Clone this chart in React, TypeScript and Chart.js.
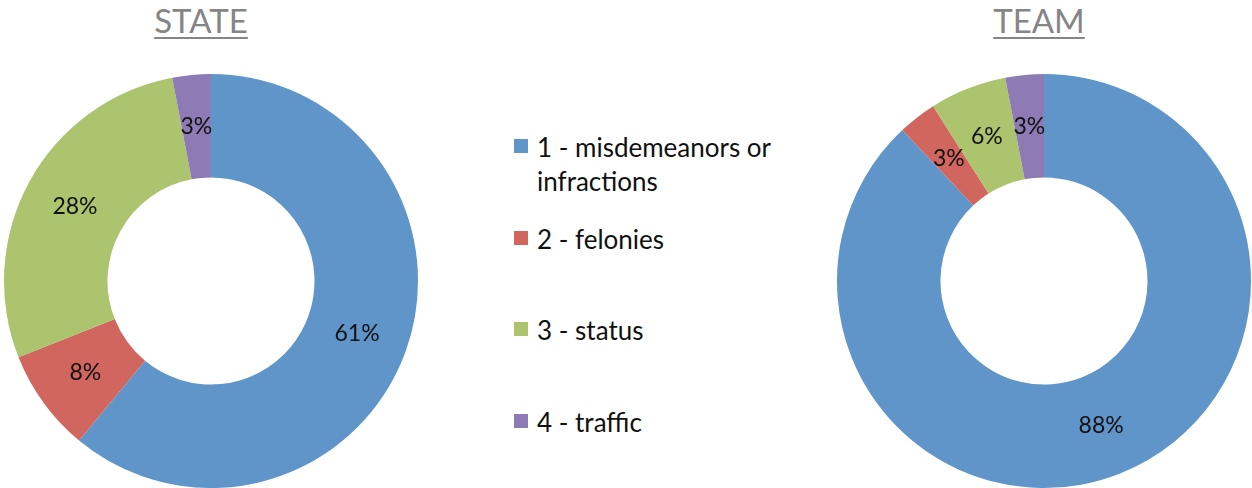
import React, { useEffect, useRef } from "react";
import { Chart, registerables } from "chart.js";

Chart.register(...registerables);

const categories = ["1 - misdemeanors or infractions", "2 - felonies", "3 - status", "4 - traffic"];
const stateValues = [61, 8, 28, 3];
const teamValues = [88, 3, 6, 3];
const colors = ["#5F95C9", "#D0665E", "#ABC46D", "#8E7BB5"];
const titles = ["STATE", "TEAM"];

const labelPlugin = {
  id: "sliceLabels",
  afterDatasetsDraw(chart: any) {
    const ctx = chart.ctx;
    const meta = chart.getDatasetMeta(0);
    const data = chart.data.datasets[0].data as number[];
    ctx.save();
    ctx.font = "23px Lato";
    ctx.fillStyle = "#111";
    ctx.textAlign = "center";
    ctx.textBaseline = "middle";
    meta.data.forEach((el: any, i: number) => {
      const p = el.tooltipPosition();
      ctx.fillText(`${data[i]}%`, p.x, p.y);
    });
    ctx.restore();
  },
};

function Donut({ values, left, title, titleCenter }: { values: number[]; left: number; title: string; titleCenter: number }) {
  const ref = useRef<HTMLCanvasElement>(null);
  useEffect(() => {
    const chart = new Chart(ref.current!, {
      type: "doughnut",
      data: {
        labels: categories,
        datasets: [{ data: values, backgroundColor: colors, borderWidth: 0 }],
      },
      options: {
        animation: false,
        responsive: false,
        maintainAspectRatio: false,
        cutout: "50%",
        layout: { padding: 0 },
        plugins: { legend: { display: false }, tooltip: { enabled: false } },
      },
      plugins: [labelPlugin],
    });
    return () => chart.destroy();
  }, [values]);
  return (
    <>
      <div
        style={{
          position: "absolute",
          left: titleCenter - 100,
          width: 200,
          top: 0,
          textAlign: "center",
          font: "33px Lato",
          color: "#858585",
          lineHeight: "40px",
        }}
      >
        <span style={{ textDecoration: "underline", textDecorationThickness: "2px", textUnderlineOffset: "4px" }}>{title}</span>
      </div>
      <canvas ref={ref} width={414} height={414} style={{ position: "absolute", left, top: 74, width: 414, height: 414 }} />
    </>
  );
}

export default function App() {
  return (
    <div style={{ position: "absolute", left: 0, top: 0, width: 1252, height: 488, background: "#fff", overflow: "hidden" }}>
      <Donut values={stateValues} left={4} title={titles[0]} titleCenter={201} />
      <Donut values={teamValues} left={837} title={titles[1]} titleCenter={1039} />
      {categories.map((c, i) => (
        <div
          key={c}
          style={{ position: "absolute", left: 514, top: 130 + i * 91.7, display: "flex", alignItems: "flex-start" }}
        >
          <div style={{ width: 14, height: 14, marginTop: 9, background: colors[i], flex: "none" }} />
          <div style={{ marginLeft: 9, width: 250, font: "26px Lato", lineHeight: "34px", color: "#111" }}>{c}</div>
        </div>
      ))}
    </div>
  );
}
